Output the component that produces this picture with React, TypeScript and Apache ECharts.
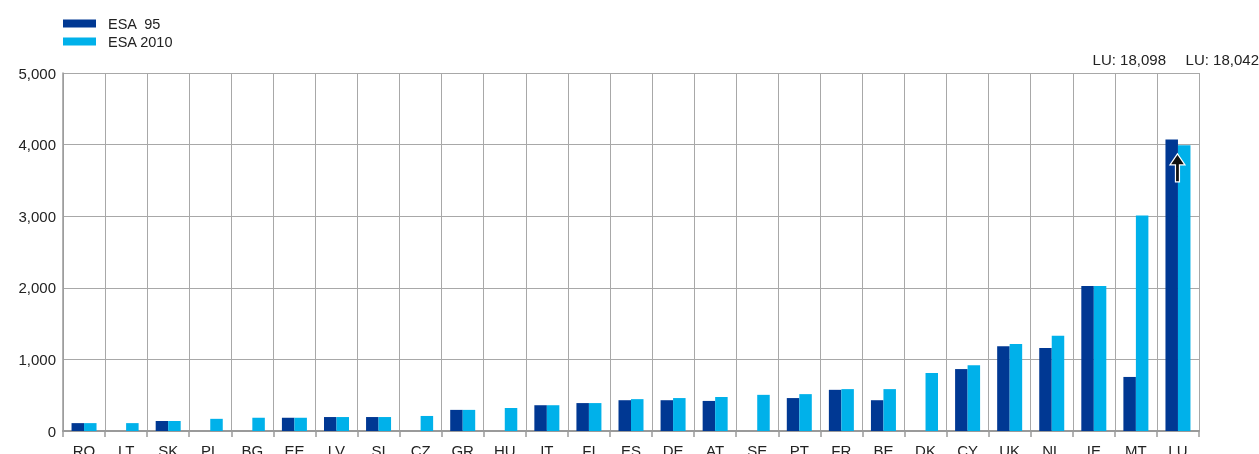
import React, { useEffect, useRef } from "react";
import * as echarts from "echarts";

const categories = ["RO", "LT", "SK", "PL", "BG", "EE", "LV", "SI", "CZ", "GR", "HU", "IT", "FI", "ES", "DE", "AT", "SE", "PT", "FR", "BE", "DK", "CY", "UK", "NL", "IE", "MT", "LU"];
// LU bars are drawn truncated (broken bars); real values in luActual
const esa95 = [110, null, 140, null, null, 185, 195, 195, null, 295, null, 360, 390, 430, 430, 420, null, 460, 575, 430, null, 865, 1185, 1160, 2025, 755, 4070];
const esa2010 = [110, 110, 140, 170, 185, 185, 195, 195, 210, 295, 320, 360, 390, 445, 460, 475, 505, 515, 585, 585, 810, 920, 1215, 1330, 2025, 3010, 3990];
const luActual = [18098, 18042];
const seriesNames = ["ESA  95", "ESA 2010"];
const yTicks = { min: 0, max: 5000, interval: 1000 };

const fmt = (v: number) => v.toLocaleString("en-US");

export default function App() {
  const ref = useRef<HTMLDivElement>(null);
  useEffect(() => {
    if (!ref.current) return;
    const chart = echarts.init(ref.current, null, { renderer: "svg" });
    const font = "Liberation Sans, Arial, sans-serif";
    chart.setOption({
      animation: false,
      textStyle: { fontFamily: font },
      legend: {
        orient: "vertical",
        left: 63,
        top: 16,
        padding: 0,
        itemWidth: 33,
        itemHeight: 8,
        itemGap: 3,
        icon: "rect",
        textStyle: { fontSize: 14.5, color: "#222", fontFamily: font, padding: [0, 0, 0, 7] },
        data: seriesNames,
      },
      grid: { left: 63, right: 60, top: 73, bottom: 23, containLabel: false, outerBoundsMode: "none" },
      xAxis: {
        type: "category",
        data: categories,
        axisLine: { lineStyle: { color: "#9a9a9a", width: 2 } },
        axisTick: { show: true, length: 6, lineStyle: { color: "#9a9a9a", width: 1.5 } },
        axisLabel: { fontSize: 15, color: "#222", margin: 12, fontFamily: font },
        splitLine: { show: true, lineStyle: { color: "#a8a8a8", width: 1 } },
      },
      yAxis: {
        type: "value",
        min: yTicks.min,
        max: yTicks.max,
        interval: yTicks.interval,
        axisLine: { show: true, lineStyle: { color: "#9a9a9a", width: 1.5 } },
        axisTick: { show: false },
        axisLabel: { fontSize: 15, color: "#222", margin: 7, formatter: (v: number) => fmt(v), fontFamily: font },
        splitLine: { show: true, lineStyle: { color: "#a8a8a8", width: 1 } },
      },
      series: [
        { name: seriesNames[0], type: "bar", data: esa95, barWidth: 12.5, barGap: "0%", itemStyle: { color: "#003893" } },
        { name: seriesNames[1], type: "bar", data: esa2010, barWidth: 12.5, barGap: "0%", itemStyle: { color: "#00b1ea" } },
      ],
    });
    const p = chart.convertToPixel({ xAxisIndex: 0, yAxisIndex: 0 }, ["LU", 3870]) as number[];
    const cx = p[0] - 0.5;
    const ty = p[1];
    chart.setOption({
      graphic: [
        {
          type: "polygon",
          shape: {
            points: [[cx, ty], [cx + 7.5, ty + 11], [cx + 2, ty + 11], [cx + 2, ty + 28], [cx - 2, ty + 28], [cx - 2, ty + 11], [cx - 7.5, ty + 11]],
          },
          style: { fill: "#111", stroke: "#fff", lineWidth: 1.2 },
          z: 100,
        },
        {
          type: "text",
          right: 93,
          top: 52,
          style: { text: "LU: " + fmt(luActual[0]), fontSize: 15, fill: "#222", fontFamily: font },
        },
        {
          type: "text",
          right: 0,
          top: 52,
          style: { text: "LU: " + fmt(luActual[1]), fontSize: 15, fill: "#222", fontFamily: font },
        },
      ],
    });
    return () => chart.dispose();
  }, []);
  return <div ref={ref} style={{ position: "fixed", left: 0, top: 0, width: 1259, height: 454 }} />;
}
